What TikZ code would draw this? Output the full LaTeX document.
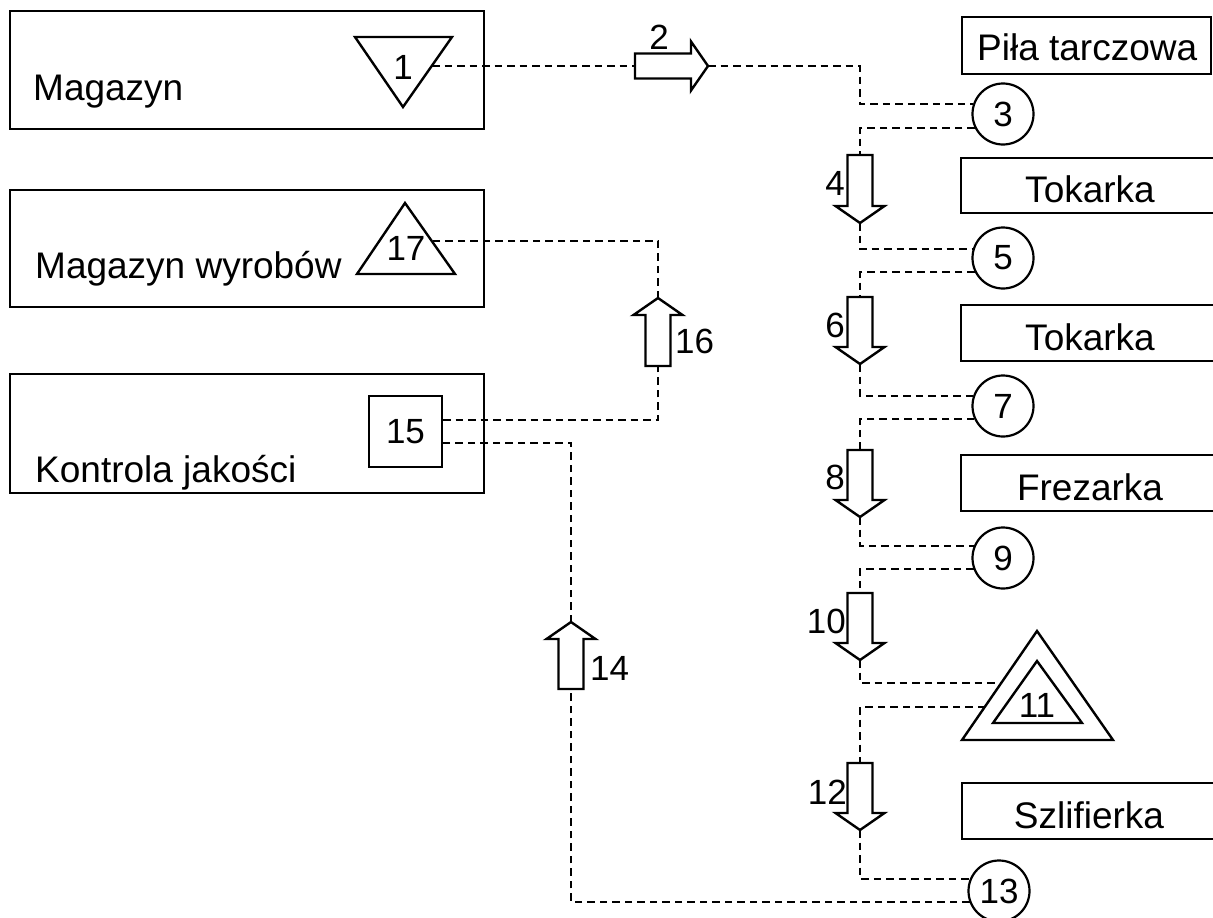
\documentclass[tikz,border=0pt]{standalone}
\usepackage{fontspec}
\setmainfont{Liberation Sans}
\usetikzlibrary{calc}
\begin{document}
\begin{tikzpicture}[x=1pt,y=-1pt,
  box/.style={draw, line width=2.6pt, inner sep=0pt},
  txt/.style={inner sep=0pt, font=\fontsize{37}{40}\selectfont},
  num/.style={inner sep=0pt, font=\fontsize{35}{38}\selectfont},
  stage/.style={draw, circle, line width=2.2pt, minimum size=61pt, inner sep=0pt, font=\fontsize{35}{38}\selectfont},
  symline/.style={line width=2.4pt, line join=miter},
  arrowline/.style={draw, line width=2.4pt, line join=miter, fill=white},
  flow/.style={line width=1.8pt, dash pattern=on 7.5pt off 5pt},
  pics/blockarrow/.style={code={
    \draw[arrowline] (0,-12.5) -- (#1-17,-12.5) -- (#1-17,-24.5) -- (#1,0)
      -- (#1-17,24.5) -- (#1-17,12.5) -- (0,12.5) -- cycle;
    \coordinate (-tail) at (0,0);
    \coordinate (-tip) at (#1,0);
  }},
  pics/blockarrow/.default=68
]
\useasboundingbox (0,0) rectangle (1213,918);

% ---- departments on the left ----
\node[box, minimum width=474pt, minimum height=118pt] (magbox) at (247,70) {};
\node[txt, anchor=base west] (magtxt) at (33,100) {Magazyn};
\node[box, minimum width=474pt, minimum height=117pt] (wyrbox) at (247,248.5) {};
\node[txt, anchor=base west] (wyrtxt) at (35,278) {Magazyn wyrobów};
\node[box, minimum width=474pt, minimum height=119pt] (kjbox) at (247,433.5) {};
\node[txt, anchor=base west] (kjtxt) at (35,482) {Kontrola jakości};

% ---- machines on the right ----
\node[box, minimum width=249pt, minimum height=57pt] (pila) at (1086.5,45.5) {};
\node[txt, anchor=base west] (pilatxt) at (977,60) {Piła tarczowa};
\node[box, minimum width=253pt, minimum height=55pt] (tok1) at (1087.5,185.5) {};
\node[txt, anchor=base] (tok1txt) at (1090,202) {Tokarka};
\node[box, minimum width=253pt, minimum height=56pt] (tok2) at (1087.5,333) {};
\node[txt, anchor=base] (tok2txt) at (1090,350) {Tokarka};
\node[box, minimum width=253pt, minimum height=56pt] (frez) at (1087.5,483) {};
\node[txt, anchor=base] (freztxt) at (1090,500) {Frezarka};
\node[box, minimum width=252pt, minimum height=56pt] (szl) at (1088,811) {};
\node[txt, anchor=base] (szltxt) at (1089,828) {Szlifierka};

% ---- storage symbols ----
\draw[symline] (355,37) -- (452,37) -- (403,107) -- cycle;
\node[num] (n1) at (403,67) {1};
\coordinate (t1out) at (432,66);

\draw[symline] (405,203) -- (455,274) -- (357,274) -- cycle;
\node[num] (n17) at (406,248) {17};
\coordinate (t17in) at (432,241);

\draw[symline] (1037,631) -- (1113,740) -- (962,740) -- cycle;
\draw[symline] (1037,661) -- (1082,723) -- (993,723) -- cycle;
\node[num] (n11) at (1037,705) {11};
\coordinate (t11in) at (1001,683);
\coordinate (t11out) at (985,707);

% ---- inspection ----
\node[box, line width=2.4pt, minimum width=73pt, minimum height=71pt, font=\fontsize{35}{38}\selectfont] (q15) at (405.5,431.5) {15};

% ---- operations ----
\node[stage] (c3) at (1003,114) {3};
\node[stage] (c5) at (1003,258) {5};
\node[stage] (c7) at (1003,406) {7};
\node[stage] (c9) at (1003,558) {9};
\node[stage] (c13) at (999,891) {13};

% ---- transport arrows ----
\pic (a2) at (635,66) {blockarrow=73};
\pic[rotate=-90] (a4) at (860,155) {blockarrow=68};
\pic[rotate=-90] (a6) at (860,297) {blockarrow=67};
\pic[rotate=-90] (a8) at (860,450) {blockarrow=67};
\pic[rotate=-90] (a10) at (860,593) {blockarrow=67};
\pic[rotate=-90] (a12) at (860,763) {blockarrow=67};
\pic[rotate=90] (a14) at (571,689) {blockarrow=67};
\pic[rotate=90] (a16) at (658,366) {blockarrow=68};

\node[num] (l2) at (659,37) {2};
\node[num, anchor=east] (l4) at (845,183) {4};
\node[num, anchor=east] (l6) at (845,325) {6};
\node[num, anchor=east] (l8) at (845,477) {8};
\node[num, anchor=east] (l10) at (846,621) {10};
\node[num, anchor=east] (l12) at (847,792) {12};
\node[num, anchor=west] (l14) at (590,668) {14};
\node[num, anchor=west] (l16) at (675,341) {16};

% ---- flow lines ----
\draw[flow] (t1out) -- (a2-tail);
\draw[flow] (a2-tip) -| (c3.161 -| a4-tail) -- (c3.161);
\draw[flow] (c3.207) -| (a4-tail);
\draw[flow] (a4-tip) |- (c5.163);
\draw[flow] (c5.207) -| (a6-tail);
\draw[flow] (a6-tip) |- (c7.161);
\draw[flow] (c7.205) -| (a8-tail);
\draw[flow] (a8-tip) |- (c9.157);
\draw[flow] (c9.201) -| (a10-tail);
\draw[flow] (a10-tip) |- (t11in);
\draw[flow] (t11out) -| (a12-tail);
\draw[flow] (a12-tip) |- (c13.157);
\draw[flow] (c13.201) -| (a14-tail);
\draw[flow] (a14-tip) |- ($(q15.east)+(0,11.5)$);
\draw[flow] ($(q15.east)+(0,-11.5)$) -| (a16-tail);
\draw[flow] (a16-tip) |- (t17in);
\end{tikzpicture}
\end{document}
